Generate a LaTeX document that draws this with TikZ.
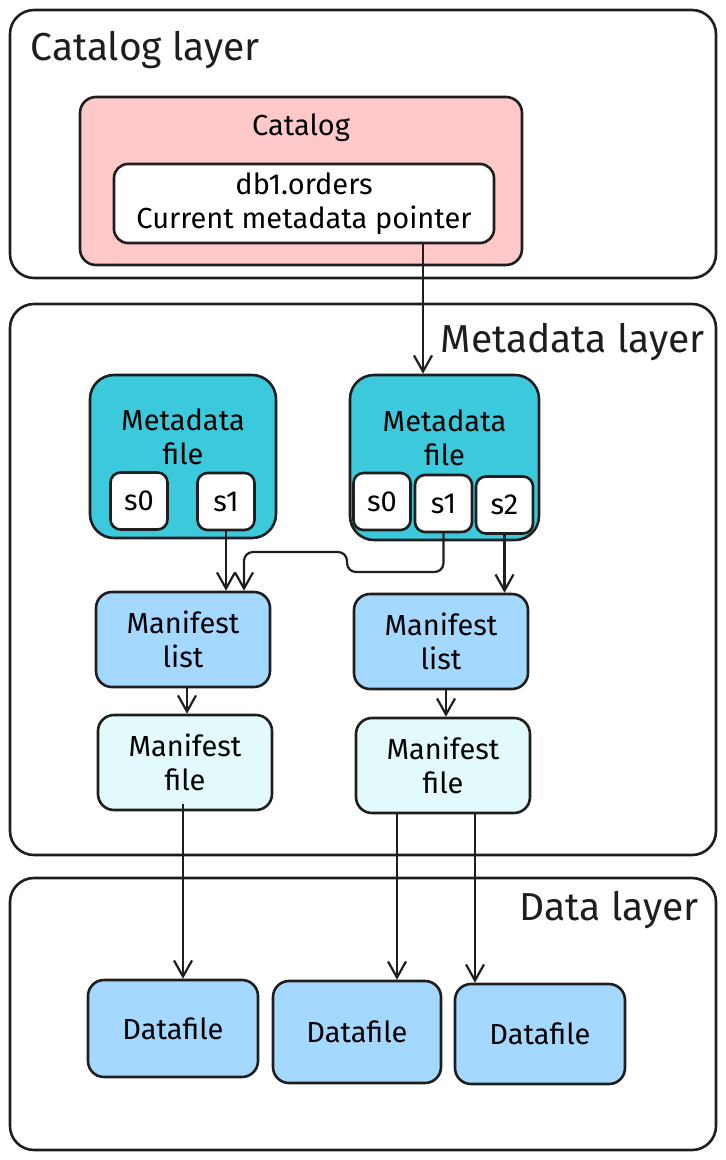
\documentclass[tikz,border=0pt]{standalone}
\usepackage{fontspec}
\setmainfont{Fira Sans}
\usepackage{tikz}
\usetikzlibrary{arrows.meta,calc,positioning}
\definecolor{ink}{HTML}{1E1E1E}
\definecolor{catpink}{HTML}{FFC9C9}
\definecolor{metateal}{HTML}{3BC9DB}
\definecolor{listblue}{HTML}{A5D8FF}
\definecolor{filecyan}{HTML}{E3FAFC}
\tikzset{
    layerbox/.style={draw=ink, line width=2.6pt, rounded corners=24pt}, % the three layers
    box/.style={draw=ink, line width=2.6pt, rounded corners=16pt, align=center,
                inner sep=0pt, font=\fontsize{29}{34}\selectfont},
    snapbox/.style={box, fill=white, rounded corners=10pt,
                minimum width=57pt, minimum height=57pt},
    layertitle/.style={font=\fontsize{39}{44}\selectfont, text=ink},
    arr/.style={draw=ink, line width=2.2pt, -{Straight Barb[length=16pt,width=18pt,line width=2.2pt]}}
}
\begin{document}
\begin{tikzpicture}[x=1pt, y=-1pt]
    \useasboundingbox (0,0) rectangle (726,1160);

    % layers
    \node[layerbox, minimum width=706pt, minimum height=268pt] (catlayer) at (363,144) {};
    \node[layerbox, minimum width=706pt, minimum height=551pt] (metalayer) at (363,579.5) {};
    \node[layerbox, minimum width=706pt, minimum height=272pt] (datalayer) at (363,1014) {};
    \node[layertitle, anchor=west] (cattitle) at (27,50) {Catalog layer};
    \node[layertitle, anchor=east] (metatitle) at (708,342) {Metadata layer};
    \node[layertitle, anchor=east] (datatitle) at (702,910) {Data layer};

    % catalog
    \node[box, fill=catpink, minimum width=442pt, minimum height=168pt] (catalog) at (301,181) {};
    \node[font=\fontsize{29}{34}\selectfont] (catname) at (301,128) {Catalog};
    \node[box, fill=white, rounded corners=14pt, minimum width=380pt, minimum height=79pt] (pointer) at (304,203.5)
        {db1.orders\\Current metadata pointer};

    % metadata files
    \node[box, fill=metateal, rounded corners=24pt, minimum width=186pt, minimum height=163pt] (meta1) at (183,456.5) {};
    \node[font=\fontsize{29}{34}\selectfont, align=center] (meta1name) at (183,437) {Metadata\\file};
    \node[snapbox] (m1s0) at (139,501) {s0};
    \node[snapbox] (m1s1) at (226,501.5) {s1};

    \node[box, fill=metateal, rounded corners=24pt, minimum width=189pt, minimum height=165pt] (meta2) at (444.5,457.5) {};
    \node[font=\fontsize{29}{34}\selectfont, align=center] (meta2name) at (444.5,438) {Metadata\\file};
    \node[snapbox] (m2s0) at (382,501.5) {s0};
    \node[snapbox] (m2s1) at (443.5,503.5) {s1};
    \node[snapbox] (m2s2) at (504.5,505) {s2};

    % manifests
    \node[box, fill=listblue, minimum width=174pt, minimum height=95pt] (list1) at (183,639.5) {Manifest\\list};
    \node[box, fill=listblue, minimum width=174pt, minimum height=95pt] (list2) at (441,641.5) {Manifest\\list};
    \node[box, fill=filecyan, minimum width=174pt, minimum height=95pt] (mfile1) at (185,762.5) {Manifest\\file};
    \node[box, fill=filecyan, minimum width=174pt, minimum height=95pt] (mfile2) at (443,765.5) {Manifest\\file};

    % data files
    \node[box, fill=listblue, minimum width=170pt, minimum height=97pt] (data1) at (173,1028.5) {Datafile};
    \node[box, fill=listblue, minimum width=168pt, minimum height=102pt] (data2) at (357,1032) {Datafile};
    \node[box, fill=listblue, minimum width=170pt, minimum height=100pt] (data3) at (540,1034) {Datafile};

    % helper columns for the arrows
    \coordinate (colptr) at (423,0);
    \coordinate (bendlow) at (347,572);
    \coordinate (bendhigh) at (244,552);
    \coordinate (coldata) at (183,0);
    \coordinate (coldataA) at (397,0);
    \coordinate (coldataB) at (475,0);

    \draw[arr] (pointer.south -| colptr) -- (meta2.north -| colptr);
    \draw[arr] (m1s1.south) -- (list1.north -| m1s1.south);
    \draw[arr, rounded corners=9pt] (m2s1.south) |- (bendlow) |- (bendhigh) -- (list1.north -| bendhigh);
    \draw[arr] (m2s2.south) -- (list2.north -| m2s2.south);
    \draw[arr] ([xshift=4pt]list1.south) -- ([xshift=4pt]list1.south |- mfile1.north);
    \draw[arr] ([xshift=5pt]list2.south) -- ([xshift=5pt]list2.south |- mfile2.north);
    \draw[arr] ([yshift=7pt]mfile1.south -| coldata) -- (data1.north -| coldata);
    \draw[arr] (mfile2.south -| coldataA) -- (data2.north -| coldataA);
    \draw[arr] (mfile2.south -| coldataB) -- (data3.north -| coldataB);

\end{tikzpicture}
\end{document}
